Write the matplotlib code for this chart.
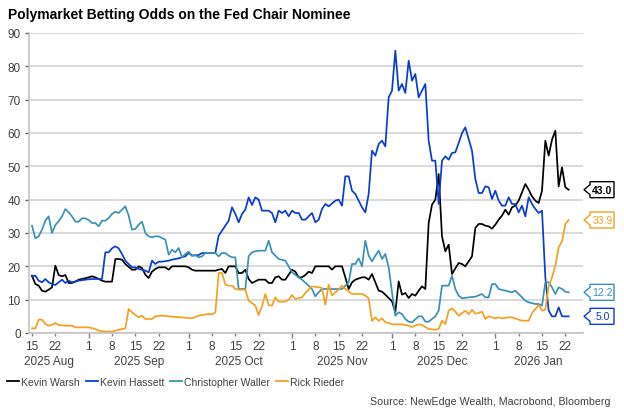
import numpy as np
import matplotlib
matplotlib.use('Agg')
import matplotlib.pyplot as plt
import matplotlib.dates as mdates
from matplotlib.patches import Polygon
from matplotlib.lines import Line2D
from matplotlib.transforms import IdentityTransform

plt.rcParams['font.family'] = ['Liberation Sans', 'DejaVu Sans']

START = np.datetime64('2025-08-15')

# (days after 15 Aug 2025, odds %)
warsh = [(0, 17.2), (1, 14.7), (2, 14.2), (3, 12.7), (4, 12.4), (5, 13.0), (6, 13.7), (7, 20.2),
         (8, 17.4), (9, 17.0), (10, 17.4), (11, 15.0), (12, 15.0), (13, 15.4), (14, 16.0), (15, 16.2),
         (17, 16.7), (18, 17.0), (19, 16.7), (20, 16.2), (21, 15.7), (22, 15.4), (24, 15.4), (25, 22.2),
         (26, 22.2), (27, 22.0), (28, 20.7), (30, 19.0), (31, 19.0), (32, 20.0), (33, 19.5), (34, 17.5),
         (35, 16.5), (36, 18.4), (37, 19.2), (38, 19.7), (40, 19.7), (41, 19.0), (42, 20.0), (44, 20.0),
         (46, 20.0), (47, 19.7), (48, 19.0), (49, 18.7), (52, 18.7), (55, 18.7), (56, 19.0), (57, 19.2),
         (58, 18.0), (59, 20.0), (61, 20.0), (62, 18.0), (63, 18.0), (64, 19.0), (65, 16.2), (66, 15.0),
         (68, 16.0), (70, 16.0), (71, 15.0), (72, 15.0), (73, 16.7), (74, 17.0), (75, 16.0), (76, 16.0),
         (78, 19.0), (79, 18.4), (80, 16.7), (81, 16.7), (82, 17.4), (83, 18.4), (84, 18.0), (85, 20.0),
         (87, 20.0), (89, 20.0), (90, 19.0), (91, 20.0), (93, 20.0), (94, 16.7), (95, 13.2), (96, 15.2),
         (97, 16.0), (99, 16.7), (100, 16.7), (101, 16.0), (102, 17.7), (103, 15.2), (104, 12.7),
         (105, 12.4), (106, 11.5), (107, 10.5), (108, 9.5), (109, 6.2), (110, 15.5), (111, 11.5),
         (112, 12.0), (113, 10.5), (114, 11.7), (115, 11.2), (116, 12.7), (117, 14.0), (118, 13.2),
         (119, 33.0), (120, 38.5), (121, 40.0), (122, 47.7), (123, 29.0), (124, 24.5), (125, 26.5),
         (126, 17.7), (127, 19.4), (128, 21.0), (129, 20.7), (130, 20.0), (131, 21.5), (132, 23.0),
         (133, 31.5), (134, 32.7), (135, 32.7), (136, 32.2), (137, 32.0), (138, 31.3), (139, 32.5),
         (140, 34.0), (141, 35.2), (142, 37.0), (143, 35.5), (144, 37.7), (145, 38.2), (146, 39.7),
         (147, 42.2), (148, 44.7), (149, 43.0), (150, 41.0), (151, 39.7), (152, 39.0), (153, 42.7),
         (154, 57.7), (155, 53.2), (156, 58.0), (157, 60.7), (158, 44.0), (159, 49.7), (160, 43.7),
         (161, 43.0)]

hassett = [(0, 17.0), (1, 17.2), (2, 15.7), (3, 15.2), (4, 16.2), (5, 15.2), (6, 14.7), (7, 14.4),
           (8, 15.2), (9, 16.0), (10, 15.0), (11, 15.7), (12, 15.2), (14, 15.7), (16, 16.0), (18, 16.2),
           (21, 16.2), (22, 24.2), (23, 24.2), (24, 25.4), (25, 26.0), (26, 25.4), (27, 23.7), (28, 21.7),
           (30, 19.7), (31, 19.7), (32, 19.2), (34, 18.7), (35, 18.2), (36, 21.7), (37, 20.7), (38, 21.4),
           (39, 21.4), (41, 21.7), (42, 22.0), (44, 22.4), (45, 22.7), (46, 23.0), (47, 24.0), (48, 23.2),
           (50, 23.4), (51, 24.0), (53, 24.0), (55, 24.0), (56, 29.2), (57, 30.7), (58, 32.2), (59, 33.7),
           (60, 37.7), (61, 35.7), (62, 33.2), (63, 35.7), (64, 37.0), (65, 40.7), (66, 38.4), (67, 40.7),
           (68, 40.0), (69, 36.7), (71, 36.7), (72, 36.0), (73, 33.2), (74, 36.7), (75, 36.0), (76, 36.7),
           (77, 35.0), (78, 36.7), (79, 36.0), (80, 36.0), (81, 34.0), (82, 34.0), (83, 35.0), (84, 36.0),
           (85, 33.2), (86, 34.0), (87, 37.2), (88, 38.7), (89, 38.0), (91, 39.7), (92, 40.0), (93, 38.2),
           (94, 47.0), (95, 47.0), (96, 42.7), (97, 41.7), (98, 39.7), (99, 37.7), (100, 36.2),
           (101, 41.7), (102, 54.7), (103, 53.2), (104, 56.7), (105, 57.7), (106, 56.0), (107, 70.7),
           (108, 72.7), (109, 84.7), (110, 72.7), (111, 74.7), (112, 72.0), (113, 81.7), (114, 75.7),
           (115, 77.7), (116, 70.7), (117, 72.7), (118, 74.7), (119, 57.7), (120, 51.7), (121, 51.7),
           (122, 38.7), (123, 51.7), (124, 53.0), (125, 52.0), (126, 54.0), (127, 54.2), (128, 57.0),
           (129, 60.0), (130, 61.7), (131, 58.2), (132, 54.7), (133, 46.2), (134, 42.0), (135, 42.0),
           (136, 44.0), (137, 43.7), (138, 40.2), (139, 42.7), (140, 39.7), (141, 38.2), (142, 38.2),
           (143, 40.7), (144, 38.7), (145, 38.7), (146, 36.2), (147, 38.2), (148, 35.0), (149, 40.7),
           (150, 38.7), (151, 37.2), (152, 36.0), (153, 36.7), (154, 16.7), (155, 6.7), (156, 5.0),
           (157, 5.0), (158, 7.7), (159, 5.0), (160, 5.0), (161, 5.0)]

waller = [(0, 32.2), (1, 28.4), (2, 29.0), (3, 31.0), (4, 33.7), (5, 35.0), (6, 30.0), (7, 32.4),
          (8, 33.5), (9, 35.0), (10, 37.2), (11, 36.2), (12, 35.0), (13, 33.4), (14, 33.4), (15, 34.4),
          (16, 34.4), (17, 33.9), (18, 33.0), (19, 33.0), (20, 32.0), (21, 33.7), (22, 33.7), (23, 34.5),
          (24, 35.7), (25, 36.4), (26, 36.0), (27, 37.0), (28, 38.0), (29, 35.2), (30, 31.0), (31, 31.2),
          (32, 32.5), (33, 33.4), (34, 30.0), (35, 29.0), (36, 28.7), (37, 29.0), (38, 29.0), (39, 28.5),
          (40, 28.0), (41, 23.5), (42, 25.0), (43, 24.2), (44, 25.5), (45, 22.7), (46, 23.7), (47, 24.4),
          (48, 23.2), (49, 23.4), (50, 22.7), (51, 23.0), (52, 24.0), (54, 24.0), (55, 24.0), (56, 23.0),
          (57, 24.0), (58, 24.0), (59, 23.2), (60, 22.7), (61, 22.7), (62, 13.2), (64, 13.2), (65, 23.0),
          (66, 24.2), (67, 24.5), (68, 24.7), (70, 24.7), (71, 27.7), (72, 24.2), (73, 23.2), (74, 22.2),
          (76, 21.7), (77, 20.0), (78, 18.2), (80, 16.7), (81, 16.0), (83, 14.2), (84, 13.2), (85, 11.0),
          (86, 12.2), (87, 13.2), (88, 13.2), (93, 13.2), (95, 15.2), (96, 20.7), (97, 20.7), (98, 22.4),
          (99, 20.0), (100, 27.7), (101, 23.2), (102, 21.5), (103, 23.2), (104, 24.7), (105, 22.2),
          (106, 23.7), (107, 19.7), (108, 12.2), (109, 5.2), (110, 6.2), (111, 5.7), (112, 4.2),
          (113, 3.4), (114, 3.2), (116, 5.0), (117, 5.0), (118, 3.4), (119, 3.4), (120, 4.2), (121, 5.0),
          (122, 6.7), (123, 14.2), (124, 14.2), (125, 14.2), (126, 17.2), (127, 13.2), (128, 11.2),
          (129, 10.4), (131, 10.7), (133, 10.9), (135, 11.7), (136, 10.7), (137, 10.7), (138, 14.7),
          (139, 14.7), (140, 13.2), (142, 12.7), (144, 12.2), (145, 12.7), (146, 11.7), (147, 10.7),
          (148, 9.7), (149, 9.2), (151, 8.7), (152, 8.7), (153, 8.2), (154, 15.2), (155, 15.2),
          (156, 13.7), (157, 11.7), (158, 13.7), (159, 13.2), (160, 12.4), (161, 12.2)]

rieder = [(0, 1.4), (1, 1.4), (2, 4.0), (3, 4.0), (4, 2.7), (5, 2.2), (6, 2.5), (7, 3.0), (8, 2.4),
          (10, 2.2), (12, 2.2), (13, 1.7), (17, 1.7), (19, 1.2), (20, 0.7), (22, 0.4), (24, 0.4),
          (25, 0.7), (27, 1.2), (28, 1.4), (29, 7.2), (30, 6.2), (31, 5.4), (32, 4.7), (33, 5.2),
          (34, 4.2), (36, 4.2), (37, 5.0), (39, 5.2), (42, 4.9), (46, 4.6), (48, 4.4), (50, 5.2),
          (51, 5.4), (53, 5.7), (54, 5.6), (55, 6.2), (56, 18.0), (57, 18.0), (58, 14.5), (59, 14.2),
          (60, 14.2), (61, 13.2), (62, 13.0), (64, 13.0), (65, 9.7), (66, 9.0), (67, 8.2), (68, 5.4),
          (69, 8.1), (70, 11.7), (71, 8.4), (72, 8.2), (73, 10.7), (74, 9.4), (76, 9.4), (77, 10.0),
          (78, 11.4), (79, 10.2), (81, 10.7), (82, 12.0), (83, 13.0), (84, 14.0), (86, 13.7), (87, 13.5),
          (88, 8.5), (89, 14.5), (90, 11.3), (91, 12.2), (92, 13.0), (93, 14.2), (94, 13.2), (95, 12.5),
          (96, 11.7), (99, 11.7), (100, 11.2), (101, 10.4), (102, 3.6), (103, 4.7), (104, 3.6),
          (105, 4.4), (106, 3.2), (107, 3.0), (108, 2.6), (111, 2.6), (113, 2.2), (114, 1.8), (116, 2.6),
          (117, 2.4), (119, 1.2), (121, 1.0), (122, 1.2), (123, 3.7), (124, 2.7), (125, 6.7), (126, 7.4),
          (127, 6.4), (128, 5.2), (130, 6.7), (131, 5.6), (132, 7.0), (133, 5.8), (134, 6.0), (135, 6.4),
          (136, 4.2), (137, 5.0), (139, 4.4), (140, 4.7), (141, 4.4), (143, 4.7), (144, 4.7), (146, 4.0),
          (147, 3.7), (149, 3.7), (150, 6.0), (151, 7.2), (152, 8.4), (153, 6.7), (154, 7.0), (155, 14.0),
          (156, 16.7), (157, 20.2), (158, 25.7), (159, 27.5), (160, 32.7), (161, 33.9)]

series = [warsh, hassett, waller, rieder]
names = ['Kevin Warsh', 'Kevin Hassett', 'Christopher Waller', 'Rick Rieder']
colors = ['#000000', '#0a3cce', '#3a90b6', '#f5a020']
end_labels = ['43.0', '5.0', '12.2', '33.9']

month_starts = ['2025-09-01', '2025-10-01', '2025-11-01', '2025-12-01', '2026-01-01']
week_days = ['2025-08-15', '2025-08-22', '2025-09-08', '2025-09-15', '2025-09-22',
             '2025-10-08', '2025-10-15', '2025-10-22', '2025-11-08', '2025-11-15', '2025-11-22',
             '2025-12-08', '2025-12-15', '2025-12-22', '2026-01-08', '2026-01-15', '2026-01-22']
month_names = ['2025 Aug', '2025 Sep', '2025 Oct', '2025 Nov', '2025 Dec', '2026 Jan']
month_name_at = ['2025-08-20', '2025-09-16', '2025-10-16', '2025-11-16', '2025-12-16', '2026-01-14']

TXT = '#404040'
W, H = 624, 414


def to_num(dates):
    return mdates.date2num(np.array(dates, dtype='datetime64[D]'))


def day_label(x, pos):
    return str(mdates.num2date(x).day)


def end_tag(fig, ax, value, text, color, bold):
    x0 = ax.transAxes.transform((1, 0))[0]
    y0 = ax.transData.transform((0, value))[1]
    pts = [(x0 + 1, y0), (x0 + 7, y0 + 5), (x0 + 7, y0 + 8), (x0 + 31, y0 + 8),
           (x0 + 31, y0 - 8), (x0 + 7, y0 - 8), (x0 + 7, y0 - 5)]
    poly = Polygon(pts, closed=True, facecolor='white', edgecolor=color, lw=1.0,
                   transform=IdentityTransform())
    fig.add_artist(poly)
    fig.text(x0 + 19.5, y0, text, transform=IdentityTransform(), ha='center', va='center',
             fontsize=7.5, color=color, fontweight='bold' if bold else 'normal')


def main():
    fig = plt.figure(figsize=(W / 100, H / 100), dpi=100)
    ax = fig.add_axes([29 / W, 1 - 334 / H, (583 - 29) / W, 300 / H])

    for data, color, name in zip(series, colors, names):
        days = np.array([d for d, v in data], dtype='timedelta64[D]')
        vals = [v for d, v in data]
        ax.plot(START + days, vals, color=color, lw=1.25, label=name, solid_joinstyle='round')

    start_num = mdates.date2num(START)
    ax.set_xlim(start_num - 0.9, start_num + 165.3)
    ax.set_ylim(0, 90)

    ax.set_yticks(range(0, 91, 10))
    ax.yaxis.grid(True, color='#d4d4d4', lw=1.2)
    ax.set_axisbelow(True)
    for s in ['top', 'right']:
        ax.spines[s].set_visible(False)
    for s in ['left', 'bottom']:
        ax.spines[s].set_color('#c4c4c4')
        ax.spines[s].set_linewidth(1.2)

    ax.xaxis.set_major_locator(matplotlib.ticker.FixedLocator(to_num(month_starts)))
    ax.xaxis.set_minor_locator(matplotlib.ticker.FixedLocator(to_num(week_days)))
    ax.xaxis.set_major_formatter(matplotlib.ticker.FuncFormatter(day_label))
    ax.xaxis.set_minor_formatter(matplotlib.ticker.FuncFormatter(day_label))
    ax.tick_params(axis='x', which='major', length=3.3, width=1, color='#808080', pad=2.0,
                   labelsize=8.5, labelcolor=TXT)
    ax.tick_params(axis='x', which='minor', length=1.9, width=1, color='#808080', pad=3.4,
                   labelsize=8.5, labelcolor=TXT)
    ax.tick_params(axis='y', length=3, width=1, color='#606060', pad=3, labelsize=8.5, labelcolor=TXT)

    for name, at in zip(month_names, month_name_at):
        ax.text(to_num([at])[0], -0.092, name, transform=ax.get_xaxis_transform(),
                ha='center', va='center', fontsize=8.5, color=TXT)

    fig.text(8 / W, 1 - 15 / H, 'Polymarket Betting Odds on the Fed Chair Nominee',
             ha='left', va='center', fontsize=10, fontweight='bold', color='#000000')

    handles = [Line2D([], [], color=c, lw=1.3) for c in colors]
    fig.legend(handles, names, loc='center left', bbox_to_anchor=(7 / W, 1 - 383 / H), ncol=4,
               frameon=False, fontsize=7.5, labelcolor=TXT, handlelength=1.15, handletextpad=0.2,
               columnspacing=0.58, borderaxespad=0, borderpad=0)

    fig.text(610 / W, 1 - 402 / H, 'Source: NewEdge Wealth, Macrobond, Bloomberg',
             ha='right', va='center', fontsize=7.7, color=TXT)

    last_vals = [data[-1][1] for data in series]
    for val, text, color in zip(last_vals, end_labels, colors):
        end_tag(fig, ax, val, text, color, color == '#000000')

    fig.savefig('out.png', dpi=100)


if __name__ == '__main__':
    main()
